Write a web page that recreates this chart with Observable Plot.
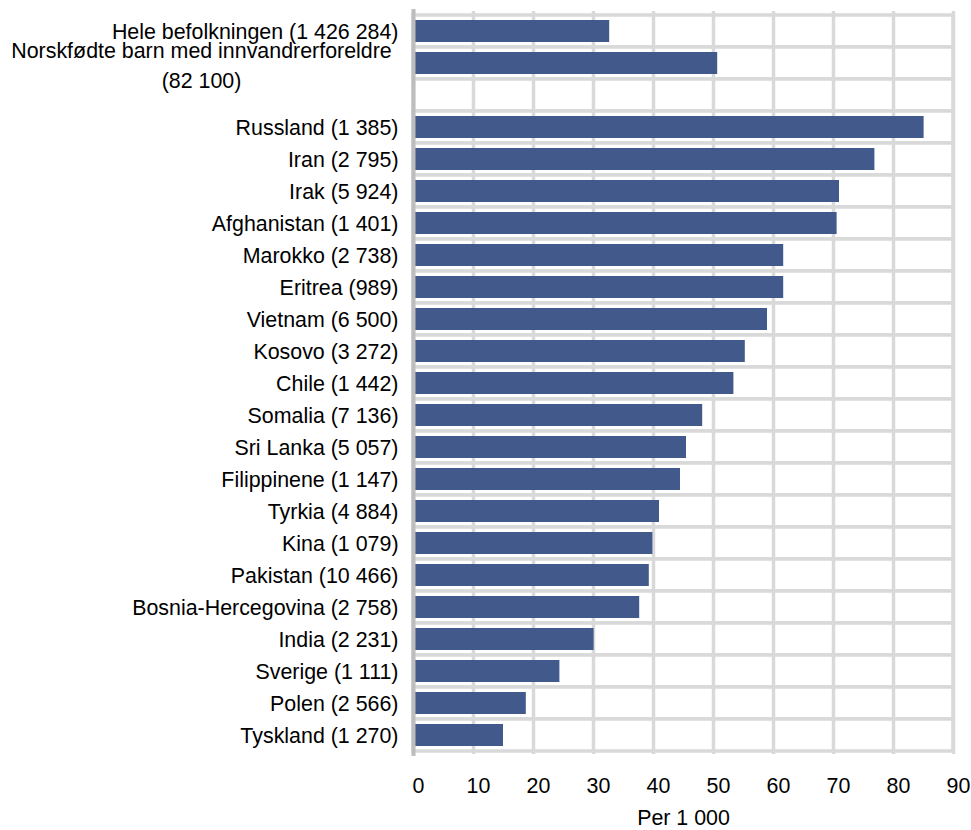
<!DOCTYPE html>
<html>
<head>
<meta charset="utf-8">
<script src="https://cdn.jsdelivr.net/npm/d3@7"></script>
<script src="https://cdn.jsdelivr.net/npm/@observablehq/plot@0.6"></script>
<style>
  html, body { margin: 0; padding: 0; background: #fff; }
</style>
</head>
<body>
<div id="chart"></div>
<script>
const groups = ["Hele befolkningen", "Norskfødte barn med innvandrerforeldre", "Russland", "Iran", "Irak", "Afghanistan", "Marokko", "Eritrea", "Vietnam", "Kosovo", "Chile", "Somalia", "Sri Lanka", "Filippinene", "Tyrkia", "Kina", "Pakistan", "Bosnia-Hercegovina", "India", "Sverige", "Polen", "Tyskland"];
const counts = ["1 426 284", "82 100", "1 385", "2 795", "5 924", "1 401", "2 738", "989", "6 500", "3 272", "1 442", "7 136", "5 057", "1 147", "4 884", "1 079", "10 466", "2 758", "2 231", "1 111", "2 566", "1 270"];
const values = [32.7, 50.7, 85.1, 76.9, 71.0, 70.6, 61.7, 61.7, 59.0, 55.3, 53.4, 48.2, 45.5, 44.5, 41.0, 39.9, 39.3, 37.7, 30.1, 24.4, 18.8, 15.0];
const xTicks = [0, 10, 20, 30, 40, 50, 60, 70, 80, 90];
const xLabel = "Per 1 000";
const blankRow = "__blank__";

const data = groups.map((g, i) => ({group: g, count: counts[i], value: values[i]}));
const domain = [groups[0], groups[1], blankRow, ...groups.slice(2)];
const countOf = new Map(groups.map((g, i) => [g, counts[i]]));
const labelOf = g => g === blankRow ? "" : `${g} (${countOf.get(g)})`;
const twoLine = groups[1];

const chart = Plot.plot({
  width: 971,
  height: 830,
  marginLeft: 413,
  marginRight: 18,
  marginTop: 11,
  marginBottom: 76,
  style: {fontFamily: "'Liberation Sans', Arial, sans-serif", fontSize: "21.4px", color: "#000", background: "#fff"},
  x: {domain: [0, 90]},
  y: {domain, padding: 0},
  marks: [
    Plot.cell(domain, {y: d => d, fill: "#fff", stroke: "#d9d9d9", strokeWidth: 3.5}),
    Plot.gridX(xTicks, {stroke: "#d9d9d9", strokeWidth: 3.5, strokeOpacity: 1}),
    Plot.barX(data, {x: "value", y: "group", fill: "#41598b", insetTop: 5, insetBottom: 5}),
    Plot.ruleX([0], {stroke: "#bdbdbd", strokeWidth: 4, insetTop: -2, insetBottom: -2}),
    Plot.axisX(xTicks, {tickSize: 0, tickPadding: 23, dx: 5, label: null, tickFormat: d => String(d)}),
    Plot.axisY(domain.filter(d => d !== twoLine && d !== blankRow), {tickSize: 0, tickPadding: 15, dy: 1, tickFormat: labelOf, label: null}),
    Plot.axisY([twoLine], {tickSize: 0, tickPadding: 212, dy: 0, textAnchor: "middle", lineHeight: 1.4, tickFormat: g => `${g}\n(${countOf.get(g)})`, label: null}),
    Plot.text([xLabel], {frameAnchor: "bottom", text: d => d, dy: 64, lineAnchor: "middle", fill: "#000"})
  ]
});
document.getElementById("chart").appendChild(chart);
</script>
</body>
</html>
